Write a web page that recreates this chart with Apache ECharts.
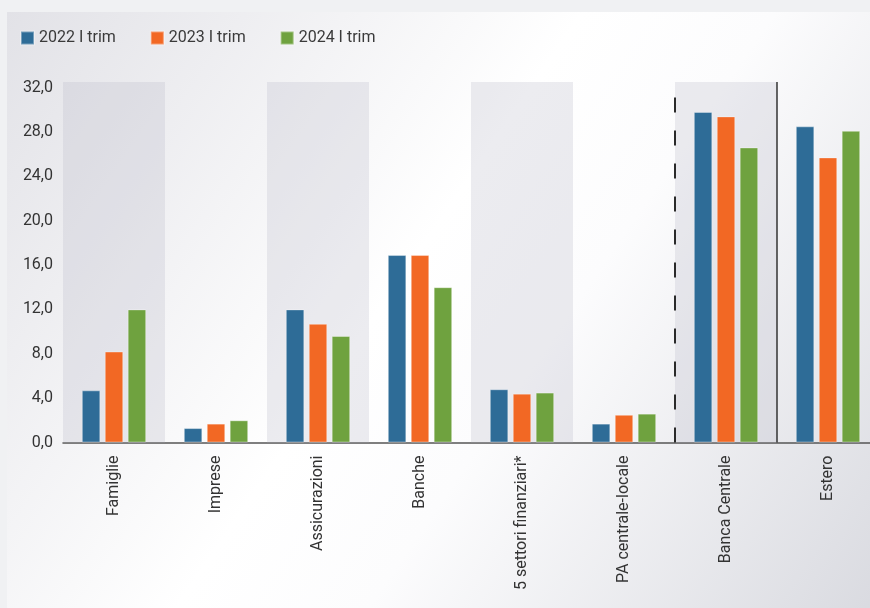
<!DOCTYPE html>
<html>
<head>
<meta charset="utf-8">
<script src="https://cdn.jsdelivr.net/npm/echarts@6/dist/echarts.min.js"></script>
<style>
html,body{margin:0;padding:0;background:#f0f1f3;overflow:hidden;}
#c{width:880px;height:608px;}
</style>
</head>
<body>
<div id="c"></div>
<script>
const categories = ['Famiglie','Imprese','Assicurazioni','Banche','5 settori finanziari*','PA centrale-locale','Banca Centrale','Estero'];
const seriesNames = ['2022 I trim','2023 I trim','2024 I trim'];
const s2022 = [4.7, 1.3, 12.0, 16.9, 4.8, 1.7, 29.8, 28.5];
const s2023 = [8.2, 1.7, 10.7, 16.9, 4.4, 2.5, 29.4, 25.7];
const s2024 = [12.0, 2.0, 9.6, 14.0, 4.5, 2.6, 26.6, 28.1];
const shadedBands = [1, 0, 1, 0, 1, 0, 1, 0];
const yTicks = [0, 4, 8, 12, 16, 20, 24, 28, 32];
const dashedBoundary = 6;
const solidBoundary = 7;

const colors = ['#2e6c97', '#f26824', '#6fa23f'];
const yMax = 32.5;
const FONT = 'Roboto';

const chart = echarts.init(document.getElementById('c'));
const bar = (name, data, color) => ({
  name, type: 'bar', data, xAxisIndex: 0, yAxisIndex: 0,
  barWidth: 18.5, barGap: '24%',
  itemStyle: {color, borderColor: 'rgba(255,255,255,0.35)', borderWidth: 1},
  z: 3
});

chart.setOption({
  animation: false,
  color: colors,
  graphic: [{
    type: 'rect', left: 7, top: 12, z: -100, silent: true,
    shape: {width: 873, height: 596},
    style: {fill: new echarts.graphic.LinearGradient(0, 0, 1, 1, [
      {offset: 0, color: '#e2e2e7'},
      {offset: 0.45, color: '#ffffff'},
      {offset: 0.6, color: '#fcfcfd'},
      {offset: 1, color: '#d9dae0'}
    ])}
  }],
  legend: {
    data: seriesNames,
    left: 15, top: 25,
    itemWidth: 13, itemHeight: 13, itemGap: 34,
    icon: 'rect',
    textStyle: {fontFamily: FONT, fontSize: 16, color: '#3a3a3a'}
  },
  grid: {left: 63, top: 82, width: 816, height: 360.5, containLabel: false},
  xAxis: [{
    type: 'category', data: categories,
    axisLine: {show: true, lineStyle: {color: '#555', width: 1.5}},
    axisTick: {show: false},
    axisLabel: {rotate: 90, margin: 13, fontFamily: FONT, fontSize: 16, color: '#333', interval: 0}
  }, {
    type: 'category', data: categories, show: false
  }, {
    type: 'value', min: 0, max: 8, show: false
  }],
  yAxis: [{
    type: 'value', min: 0, max: yMax, interval: 4,
    axisLine: {show: false}, axisTick: {show: false}, splitLine: {show: false},
    axisLabel: {
      margin: 10, fontFamily: FONT, fontSize: 16, color: '#333', padding: [6, 0, 0, 0],
      formatter: v => yTicks.indexOf(v) >= 0 ? v.toFixed(1).replace('.', ',') : ''
    }
  }],
  series: [
    {
      type: 'bar', xAxisIndex: 1, yAxisIndex: 0, silent: true,
      data: shadedBands.map(b => b ? yMax : '-'),
      barWidth: '100%',
      itemStyle: {color: 'rgba(185,185,200,0.28)'},
      z: 1
    },
    bar(seriesNames[0], s2022, colors[0]),
    bar(seriesNames[1], s2023, colors[1]),
    bar(seriesNames[2], s2024, colors[2]),
    {
      type: 'line', xAxisIndex: 2, yAxisIndex: 0, data: [], silent: true,
      markLine: {
        silent: true, symbol: 'none', label: {show: false},
        data: [
          {xAxis: dashedBoundary, lineStyle: {color: '#2a2a2a', width: 2, type: [15, 18]}},
          {xAxis: solidBoundary, lineStyle: {color: '#333', width: 1.5, type: 'solid'}}
        ]
      },
      z: 4
    }
  ]
});
</script>
</body>
</html>
